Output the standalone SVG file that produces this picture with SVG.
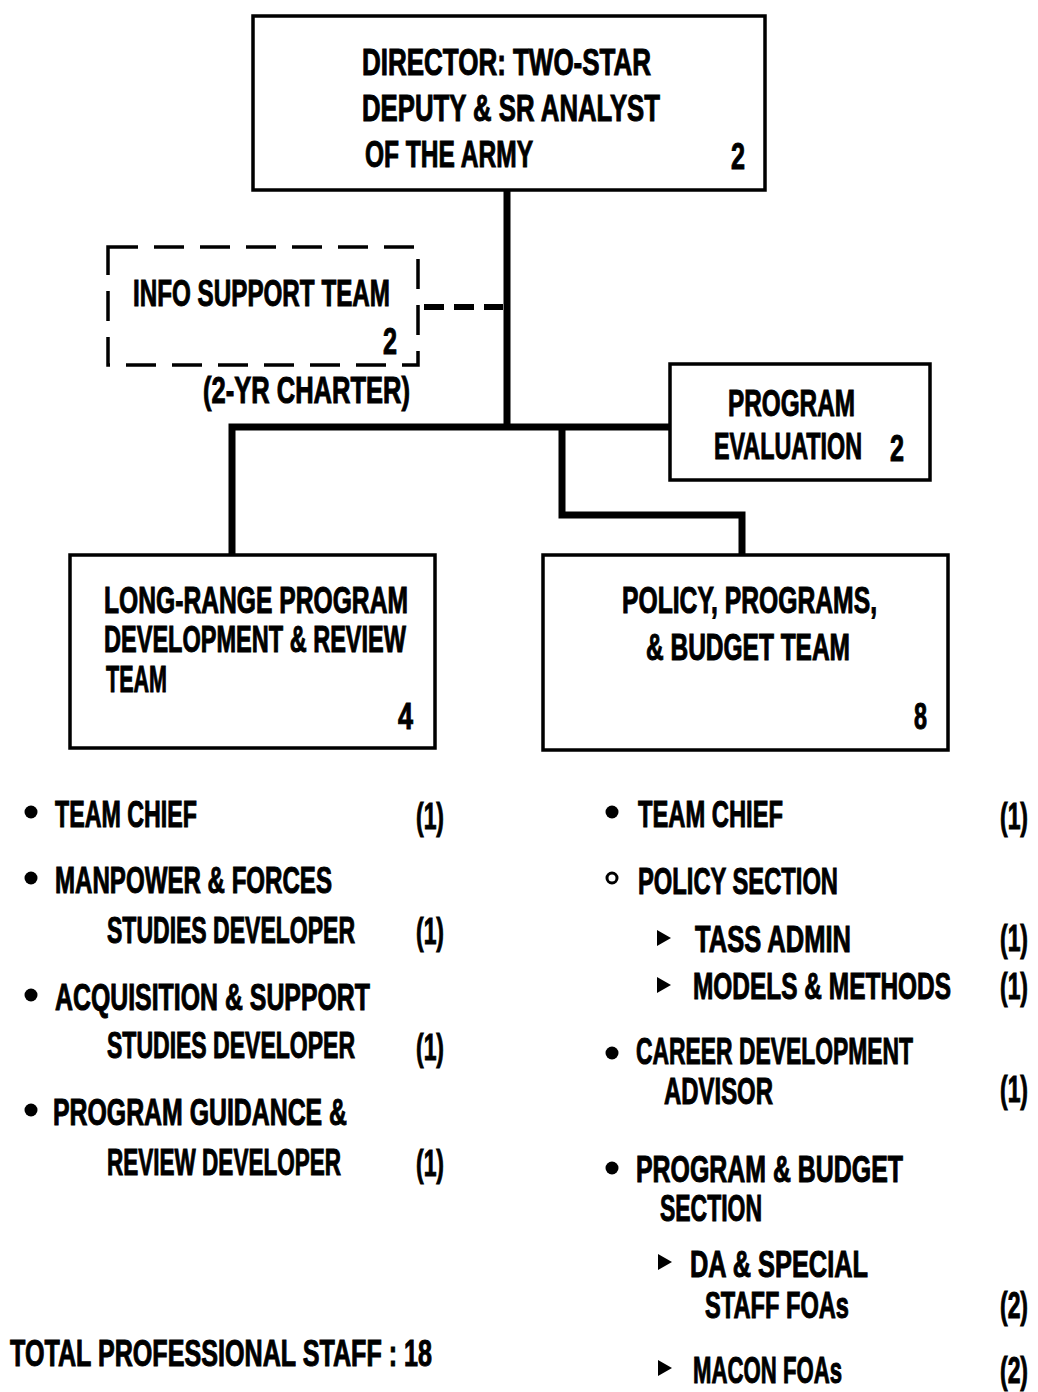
<svg xmlns="http://www.w3.org/2000/svg" width="1038" height="1392" viewBox="0 0 1038 1392">
<style>
text{font-family:"Liberation Sans Narrow","Liberation Sans",Arial,sans-serif;font-weight:bold;font-size:37px;fill:#000;stroke:#000;stroke-width:1}
.box{fill:#fff;stroke:#000;stroke-width:3.5}
.dbox{fill:none;stroke:#000;stroke-width:3.5;stroke-dasharray:30 16}
.ln{fill:none;stroke:#000;stroke-width:7}
.dln{fill:none;stroke:#000;stroke-width:6;stroke-dasharray:20 10}
</style>
<rect width="1038" height="1392" fill="#fff"/>
<g id="connectors">
<polyline class="ln" points="507,190 507,427"/>
<polyline class="ln" points="232,555 232,427 670,427"/>
<polyline class="ln" points="562,427 562,515 742,515 742,555"/>
<line class="dln" x1="424" y1="307" x2="503" y2="307"/>
</g>
<g id="director">
<rect class="box" x="253" y="16" width="512" height="174"/>
<text x="362" y="75" textLength="289" lengthAdjust="spacingAndGlyphs">DIRECTOR:  TWO-STAR</text>
<text x="362" y="121" textLength="298" lengthAdjust="spacingAndGlyphs">DEPUTY &amp; SR  ANALYST</text>
<text x="365" y="167" textLength="168" lengthAdjust="spacingAndGlyphs">OF THE ARMY</text>
<text x="731" y="169" textLength="14" lengthAdjust="spacingAndGlyphs">2</text>
</g>
<g id="info-support">
<rect class="dbox" x="108" y="247" width="310" height="118"/>
<text x="133" y="306" textLength="257" lengthAdjust="spacingAndGlyphs">INFO SUPPORT TEAM</text>
<text x="383" y="354" textLength="14" lengthAdjust="spacingAndGlyphs">2</text>
<text x="203" y="403" textLength="207" lengthAdjust="spacingAndGlyphs">(2-YR CHARTER)</text>
</g>
<g id="program-evaluation">
<rect class="box" x="670" y="364" width="260" height="116"/>
<text x="728" y="416" textLength="127" lengthAdjust="spacingAndGlyphs">PROGRAM</text>
<text x="714" y="459" textLength="148" lengthAdjust="spacingAndGlyphs">EVALUATION</text>
<text x="890" y="461" textLength="14" lengthAdjust="spacingAndGlyphs">2</text>
</g>
<g id="long-range">
<rect class="box" x="70" y="555" width="365" height="193"/>
<text x="104" y="613" textLength="304" lengthAdjust="spacingAndGlyphs">LONG-RANGE PROGRAM</text>
<text x="104" y="652" textLength="302" lengthAdjust="spacingAndGlyphs">DEVELOPMENT &amp; REVIEW</text>
<text x="106" y="692" textLength="61" lengthAdjust="spacingAndGlyphs">TEAM</text>
<text x="398" y="729" textLength="15" lengthAdjust="spacingAndGlyphs">4</text>
</g>
<g id="policy-programs-budget">
<rect class="box" x="543" y="555" width="405" height="195"/>
<text x="622" y="613" textLength="255" lengthAdjust="spacingAndGlyphs">POLICY, PROGRAMS,</text>
<text x="646" y="660" textLength="204" lengthAdjust="spacingAndGlyphs">&amp; BUDGET TEAM</text>
<text x="914" y="729" textLength="13" lengthAdjust="spacingAndGlyphs">8</text>
</g>
<g id="left-list">
<circle cx="31" cy="812" r="6.5"/>
<text x="55" y="827" textLength="142" lengthAdjust="spacingAndGlyphs">TEAM CHIEF</text>
<text x="416" y="829" textLength="28" lengthAdjust="spacingAndGlyphs">(1)</text>
<circle cx="31" cy="878" r="6.5"/>
<text x="55" y="893" textLength="277" lengthAdjust="spacingAndGlyphs">MANPOWER &amp; FORCES</text>
<text x="107" y="943" textLength="248" lengthAdjust="spacingAndGlyphs">STUDIES DEVELOPER</text>
<text x="416" y="944" textLength="28" lengthAdjust="spacingAndGlyphs">(1)</text>
<circle cx="31" cy="995" r="6.5"/>
<text x="55" y="1010" textLength="315" lengthAdjust="spacingAndGlyphs">ACQUISITION &amp; SUPPORT</text>
<text x="107" y="1058" textLength="248" lengthAdjust="spacingAndGlyphs">STUDIES DEVELOPER</text>
<text x="416" y="1060" textLength="28" lengthAdjust="spacingAndGlyphs">(1)</text>
<circle cx="31" cy="1110" r="6.5"/>
<text x="53" y="1125" textLength="294" lengthAdjust="spacingAndGlyphs">PROGRAM GUIDANCE &amp;</text>
<text x="107" y="1175" textLength="234" lengthAdjust="spacingAndGlyphs">REVIEW DEVELOPER</text>
<text x="416" y="1176" textLength="28" lengthAdjust="spacingAndGlyphs">(1)</text>
<text x="10" y="1366" textLength="422" lengthAdjust="spacingAndGlyphs">TOTAL PROFESSIONAL STAFF :  18</text>
</g>
<g id="right-list">
<circle cx="612" cy="812" r="6.5"/>
<text x="638" y="827" textLength="145" lengthAdjust="spacingAndGlyphs">TEAM CHIEF</text>
<text x="1000" y="829" textLength="28" lengthAdjust="spacingAndGlyphs">(1)</text>
<circle cx="612" cy="878" r="5" fill="#fff" stroke="#000" stroke-width="3"/>
<text x="638" y="894" textLength="200" lengthAdjust="spacingAndGlyphs">POLICY SECTION</text>
<polygon points="657,930 671,938 657,946"/>
<text x="695" y="952" textLength="156" lengthAdjust="spacingAndGlyphs">TASS ADMIN</text>
<text x="1000" y="951" textLength="28" lengthAdjust="spacingAndGlyphs">(1)</text>
<polygon points="657,977 671,985 657,993"/>
<text x="693" y="999" textLength="258" lengthAdjust="spacingAndGlyphs">MODELS &amp; METHODS</text>
<text x="1000" y="999" textLength="28" lengthAdjust="spacingAndGlyphs">(1)</text>
<circle cx="612" cy="1053" r="6.5"/>
<text x="636" y="1064" textLength="277" lengthAdjust="spacingAndGlyphs">CAREER DEVELOPMENT</text>
<text x="664" y="1104" textLength="109" lengthAdjust="spacingAndGlyphs">ADVISOR</text>
<text x="1000" y="1102" textLength="28" lengthAdjust="spacingAndGlyphs">(1)</text>
<circle cx="612" cy="1168" r="6.5"/>
<text x="636" y="1182" textLength="267" lengthAdjust="spacingAndGlyphs">PROGRAM &amp; BUDGET</text>
<text x="660" y="1221" textLength="102" lengthAdjust="spacingAndGlyphs">SECTION</text>
<polygon points="658,1254 672,1262 658,1270"/>
<text x="690" y="1277" textLength="178" lengthAdjust="spacingAndGlyphs">DA &amp; SPECIAL</text>
<text x="705" y="1318" textLength="144" lengthAdjust="spacingAndGlyphs">STAFF FOAs</text>
<text x="1000" y="1318" textLength="28" lengthAdjust="spacingAndGlyphs">(2)</text>
<polygon points="658,1360 672,1368 658,1376"/>
<text x="693" y="1383" textLength="149" lengthAdjust="spacingAndGlyphs">MACON FOAs</text>
<text x="1000" y="1383" textLength="28" lengthAdjust="spacingAndGlyphs">(2)</text>
</g>
</svg>
